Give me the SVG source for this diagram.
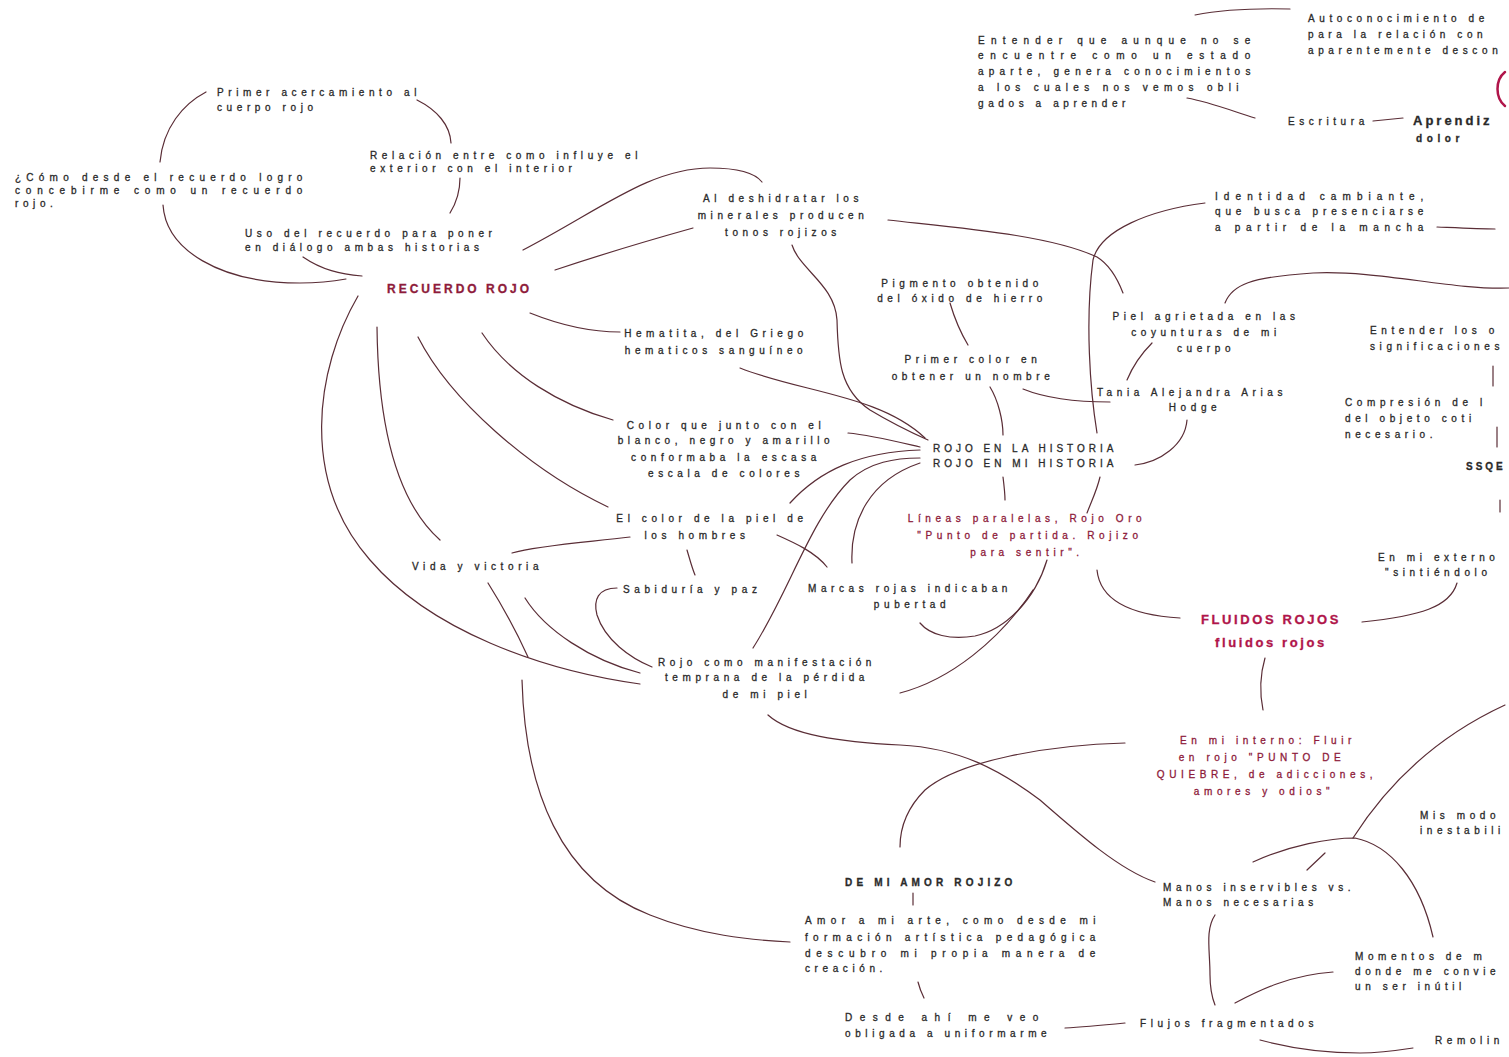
<svg xmlns="http://www.w3.org/2000/svg" width="1509" height="1057" viewBox="0 0 1509 1057">
<style>
text{font-family:"Liberation Sans",Arial,sans-serif;font-size:10px;letter-spacing:4.6px;fill:#2a2a2a;stroke:#2a2a2a;stroke-width:0.3}
.m{text-anchor:middle}
.r{fill:#8e1b3b;stroke:#8e1b3b}
.b{font-weight:bold}
.big{font-size:12px;letter-spacing:3px;font-weight:bold}
.fl{font-size:13px;letter-spacing:2.6px;font-weight:bold;fill:#b0154a;stroke:#b0154a}
.c path{fill:none;stroke:#5a2d36;stroke-width:1.2;stroke-linecap:round}
</style>
<rect width="1509" height="1057" fill="#ffffff"/>
<g class="c" id="connectors">
<path d="M206,92 C183,104 163,128 160,162"/>
<path d="M163,205 C166,250 220,283 300,283 C320,283 335,281 346,279"/>
<path d="M417,100 C437,110 450,125 451,143"/>
<path d="M460,178 C460,195 455,205 450,213"/>
<path d="M303,257 C322,270 340,274 362,276"/>
<path d="M523,250 C600,210 650,168 710,168 C740,168 755,173 762,182"/>
<path d="M555,270 C600,255 650,240 693,228"/>
<path d="M530,313 C560,325 590,332 620,332"/>
<path d="M482,333 C510,375 560,405 613,420"/>
<path d="M418,337 C450,400 530,470 608,507"/>
<path d="M377,327 C378,420 395,500 440,540"/>
<path d="M358,296 C315,370 300,480 370,560 C430,630 540,670 640,684"/>
<path d="M488,583 C505,610 518,635 528,657"/>
<path d="M522,680 C525,790 560,880 650,915 C700,935 750,940 790,942"/>
<path d="M525,598 C545,630 590,660 640,673"/>
<path d="M617,588 C598,588 593,600 597,615 C605,640 630,658 652,667"/>
<path d="M630,537 C590,542 540,545 512,553"/>
<path d="M687,550 C690,560 692,568 695,575"/>
<path d="M777,535 C795,543 815,552 827,567"/>
<path d="M848,433 C870,435 890,440 920,447"/>
<path d="M790,503 C820,470 860,452 920,450"/>
<path d="M753,648 C790,590 810,520 850,480 C870,462 895,458 920,458"/>
<path d="M852,563 C850,520 870,480 920,463"/>
<path d="M740,368 C800,392 880,395 925,438"/>
<path d="M792,245 C800,270 835,285 837,320 C838,360 840,390 870,410 C890,422 910,432 928,440"/>
<path d="M888,220 C960,228 1050,235 1097,257 C1110,265 1118,280 1123,293"/>
<path d="M950,303 C955,320 962,335 968,345"/>
<path d="M990,387 C998,400 1003,420 1003,435"/>
<path d="M1023,389 C1050,400 1080,402 1110,402"/>
<path d="M1205,203 C1150,210 1100,230 1093,260 C1085,320 1090,390 1097,433"/>
<path d="M1003,477 C1004,485 1005,493 1005,500"/>
<path d="M1100,477 C1097,490 1092,500 1087,513"/>
<path d="M1152,343 C1140,355 1132,368 1127,380"/>
<path d="M1187,420 C1185,445 1160,462 1135,465"/>
<path d="M1225,303 C1232,285 1250,277 1313,273 C1380,270 1450,290 1509,288"/>
<path d="M1437,227 C1460,228 1480,229 1495,229"/>
<path d="M1195,15 C1220,10 1250,8 1290,9"/>
<path d="M1187,98 C1210,102 1235,112 1255,118"/>
<path d="M1373,121 L1403,118"/>
<path d="M1505,72 C1495,80 1495,98 1505,106" style="stroke:#b0154a;stroke-width:2.5"/>
<path d="M1493,366 L1493,386"/>
<path d="M1497,427 L1497,447"/>
<path d="M1500,500 L1500,512"/>
<path d="M1047,560 C1035,600 1005,630 975,636 C950,640 930,635 920,623"/>
<path d="M1033,590 C1000,640 950,680 900,693"/>
<path d="M1097,570 C1100,600 1130,615 1180,618"/>
<path d="M1457,583 C1450,607 1420,616 1362,622"/>
<path d="M1265,658 C1260,675 1260,695 1263,710"/>
<path d="M768,715 C790,735 840,742 900,745 C960,748 1000,770 1040,800 C1080,835 1120,870 1155,882"/>
<path d="M1125,743 C1050,745 960,760 925,790 C905,810 900,830 900,847"/>
<path d="M913,893 L913,905"/>
<path d="M918,982 C920,990 922,994 924,998"/>
<path d="M1065,1028 C1085,1027 1105,1025 1125,1023"/>
<path d="M1215,915 C1205,930 1210,950 1210,975 C1210,990 1213,1000 1215,1005"/>
<path d="M1235,1003 C1260,990 1290,975 1333,972"/>
<path d="M1253,862 C1290,845 1330,838 1355,838 C1390,845 1420,880 1433,937"/>
<path d="M1307,870 L1325,853"/>
<path d="M1353,838 C1390,780 1440,735 1505,705"/>
<path d="M1260,1040 C1290,1048 1320,1053 1360,1053 C1380,1053 1400,1050 1413,1048"/>
</g>
<g id="n-primer"><text x="217" y="96">Primer acercamiento al</text><text x="217" y="111">cuerpo rojo</text></g>
<g id="n-como"><text x="15" y="181" textLength="292" lengthAdjust="spacing">¿Cómo desde el recuerdo logro</text><text x="15" y="194" textLength="292" lengthAdjust="spacing">concebirme como un recuerdo</text><text x="15" y="207">rojo.</text></g>
<g id="n-relacion"><text x="370" y="159">Relación entre como influye el</text><text x="370" y="172">exterior con el interior</text></g>
<g id="n-uso"><text x="245" y="237">Uso del recuerdo para poner</text><text x="245" y="251">en diálogo ambas historias</text></g>
<g id="n-recuerdo"><text x="387" y="293" class="big r">RECUERDO ROJO</text></g>
<g id="n-deshidratar"><text x="783" y="202" class="m">Al deshidratar los</text><text x="783" y="219" class="m">minerales producen</text><text x="783" y="236" class="m">tonos rojizos</text></g>
<g id="n-pigmento"><text x="962" y="287" class="m">Pigmento obtenido</text><text x="962" y="302" class="m">del óxido de hierro</text></g>
<g id="n-primercolor"><text x="973" y="363" class="m">Primer color en</text><text x="973" y="380" class="m">obtener un nombre</text></g>
<g id="n-piel"><text x="1206" y="320" class="m">Piel agrietada en las</text><text x="1206" y="336" class="m">coyunturas de mi</text><text x="1206" y="352" class="m">cuerpo</text></g>
<g id="n-tania"><text x="1192" y="396" class="m">Tania Alejandra Arias</text><text x="1195" y="411" class="m">Hodge</text></g>
<g id="n-rojohistoria"><text x="933" y="452" textLength="185" lengthAdjust="spacing">ROJO EN LA HISTORIA</text><text x="933" y="467" textLength="185" lengthAdjust="spacing">ROJO EN MI HISTORIA</text></g>
<g id="n-hematita"><text x="716" y="337" class="m">Hematita, del Griego</text><text x="716" y="354" class="m">hematicos sanguíneo</text></g>
<g id="n-colorque"><text x="726" y="429" class="m">Color que junto con el</text><text x="726" y="444" class="m">blanco, negro y amarillo</text><text x="726" y="461" class="m">conformaba la escasa</text><text x="726" y="477" class="m">escala de colores</text></g>
<g id="n-elcolor"><text x="712" y="522" class="m">El color de la piel de</text><text x="697" y="539" class="m">los hombres</text></g>
<g id="n-vida"><text x="412" y="570">Vida y victoria</text></g>
<g id="n-sabiduria"><text x="623" y="593">Sabiduría y paz</text></g>
<g id="n-marcas"><text x="808" y="592">Marcas rojas indicaban</text><text x="912" y="608" class="m">pubertad</text></g>
<g id="n-lineas"><text x="1027" y="522" class="m r">Líneas paralelas, Rojo Oro</text><text x="1030" y="539" class="m r">"Punto de partida. Rojizo</text><text x="1027" y="556" class="m r">para sentir".</text></g>
<g id="n-rojocomo"><text x="767" y="666" class="m">Rojo como manifestación</text><text x="767" y="681" class="m">temprana de la pérdida</text><text x="767" y="698" class="m">de mi piel</text></g>
<g id="n-fluidos"><text x="1271" y="624" class="m fl">FLUIDOS ROJOS</text><text x="1271" y="647" class="m fl">fluidos rojos</text></g>
<g id="n-interno"><text x="1268" y="744" class="m r">En mi interno: Fluir</text><text x="1262" y="761" class="m r">en rojo "PUNTO DE</text><text x="1267" y="778" class="m r">QUIEBRE, de adicciones,</text><text x="1264" y="795" class="m r">amores y odios"</text></g>
<g id="n-identidad"><text x="1215" y="200" textLength="213" lengthAdjust="spacing">Identidad cambiante,</text><text x="1215" y="215" textLength="213" lengthAdjust="spacing">que busca presenciarse</text><text x="1215" y="231" textLength="213" lengthAdjust="spacing">a partir de la mancha</text></g>
<g id="n-entender"><text x="978" y="44" textLength="277" lengthAdjust="spacing">Entender que aunque no se</text><text x="978" y="59" textLength="277" lengthAdjust="spacing">encuentre como un estado</text><text x="978" y="75" textLength="277" lengthAdjust="spacing">aparte, genera conocimientos</text><text x="978" y="91" textLength="265" lengthAdjust="spacing">a los cuales nos vemos obli</text><text x="978" y="107">gados a aprender</text></g>
<g id="n-autoconocimiento"><text x="1308" y="22">Autoconocimiento de</text><text x="1308" y="38">para la relación con</text><text x="1308" y="54">aparentemente descon</text></g>
<g id="n-escritura"><text x="1288" y="125">Escritura</text></g>
<g id="n-aprendizaje"><text x="1413" y="125" class="b" style="font-size:13px;letter-spacing:3px">Aprendiz</text><text x="1416" y="142" class="b">dolor</text></g>
<g id="n-entenderlos"><text x="1370" y="334">Entender los o</text><text x="1370" y="350">significaciones</text></g>
<g id="n-compresion"><text x="1345" y="406">Compresión de l</text><text x="1345" y="422">del objeto coti</text><text x="1345" y="438">necesario.</text></g>
<g id="n-ssqe"><text x="1466" y="470" class="b" style="letter-spacing:3px">SSQE</text></g>
<g id="n-externo"><text x="1378" y="561">En mi externo</text><text x="1385" y="576">"sintiéndolo</text></g>
<g id="n-mismodos"><text x="1420" y="819">Mis modo</text><text x="1420" y="834">inestabili</text></g>
<g id="n-manos"><text x="1163" y="891">Manos inservibles vs.</text><text x="1163" y="906">Manos necesarias</text></g>
<g id="n-momentos"><text x="1355" y="960">Momentos de m</text><text x="1355" y="975">donde me convie</text><text x="1355" y="990">un ser inútil</text></g>
<g id="n-flujos"><text x="1140" y="1027">Flujos fragmentados</text></g>
<g id="n-remolin"><text x="1435" y="1044">Remolin</text></g>
<g id="n-amorrojizo"><text x="845" y="886" class="b" textLength="172" lengthAdjust="spacing">DE MI AMOR ROJIZO</text></g>
<g id="n-amorarte"><text x="805" y="924" textLength="295" lengthAdjust="spacing">Amor a mi arte, como desde mi</text><text x="805" y="941" textLength="295" lengthAdjust="spacing">formación artística pedagógica</text><text x="805" y="957" textLength="295" lengthAdjust="spacing">descubro mi propia manera de</text><text x="805" y="972">creación.</text></g>
<g id="n-desde"><text x="845" y="1021" textLength="198" lengthAdjust="spacing">Desde ahí me veo</text><text x="845" y="1037">obligada a uniformarme</text></g>
</svg>
